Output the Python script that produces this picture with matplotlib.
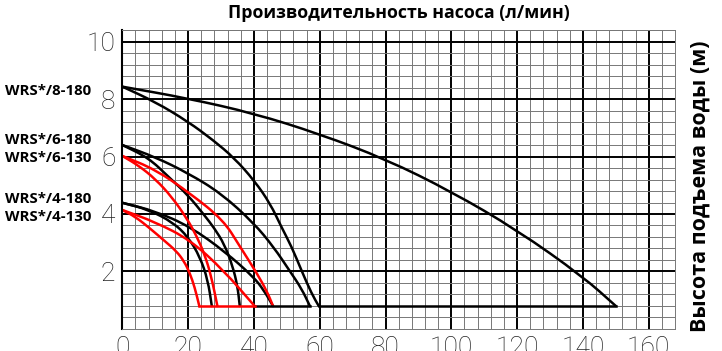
import numpy as np
import matplotlib.pyplot as plt
from matplotlib.path import Path
from matplotlib.patches import PathPatch
from matplotlib.transforms import blended_transform_factory

plt.rcParams['font.family'] = ['Open Sans', 'DejaVu Sans']

# расход (л/мин) / напор (м)
q_8_a = [0, 20, 40, 60, 80, 100, 120, 140, 150]
h_8_a = [8.43, 8.02, 7.50, 6.78, 5.91, 4.78, 3.44, 1.82, 0.8]
q_8_b = [0, 10, 20, 27.6, 34, 40.2, 45, 48.3, 51.5, 54.4, 57.5, 59.7]
h_8_b = [8.43, 7.9, 7.21, 6.57, 5.95, 5.15, 4.35, 3.56, 2.85, 2.05, 1.24, 0.8]

q_6_a = [0, 10, 20, 30, 40, 46, 51, 54.5, 57]
h_6_a = [6.40, 5.98, 5.42, 4.72, 3.68, 2.85, 2.0, 1.4, 0.8]
q_6_b = [0, 8, 14, 20, 25, 28, 31, 33.5, 35, 35.7]
h_6_b = [6.40, 5.95, 5.30, 4.65, 3.95, 3.5, 2.95, 2.2, 1.5, 0.8]

q_4_a = [0, 10, 20.6, 31.2, 39.8, 43, 45.8]
h_4_a = [4.39, 4.1, 3.56, 2.69, 1.82, 1.35, 0.8]
q_4_b = [0, 8, 15.5, 20, 23.6, 26, 27.2]
h_4_b = [4.39, 4.15, 3.70, 3.2, 2.51, 1.7, 0.8]

# красные
q_6r_a = [0, 10, 20.6, 30.7, 35.8, 40.9, 44, 45.8]
h_6r_a = [6.02, 5.55, 4.72, 3.79, 2.86, 1.94, 1.3, 0.8]
q_6r_b = [0, 5, 10, 15, 19.6, 22.5, 25, 27, 28.9]
h_6r_b = [6.02, 5.68, 5.22, 4.6, 3.85, 3.25, 2.6, 1.85, 0.8]

q_4r_a = [0, 10, 20.6, 30.7, 40.2]
h_4r_a = [4.14, 3.72, 3.10, 2.05, 0.8]
q_4r_b = [0, 4, 8.4, 13, 16.5, 18.8, 20.5, 22, 23.4]
h_4r_b = [4.14, 3.9, 3.50, 3.05, 2.7, 2.35, 1.95, 1.45, 0.8]

# горизонтальные участки
q_flat_red = [23.4, 40.2]
q_flat_blk1 = [40.2, 57]
q_flat_blk2 = [59.8, 150]
h_flat = 0.8

labels = ['WRS*/8-180', 'WRS*/6-180', 'WRS*/6-130', 'WRS*/4-180', 'WRS*/4-130']
label_h = [8.28, 6.57, 5.95, 4.52, 3.9]

x_ticks = np.arange(0, 161, 20)
y_ticks = np.arange(2, 11, 2)


def smooth_curve(ax, q, h, color):
    # кривая Безье через середины отрезков
    pts = list(zip(q, h))
    verts = [pts[0]]
    codes = [Path.MOVETO]
    mids = [((pts[i][0] + pts[i + 1][0]) / 2, (pts[i][1] + pts[i + 1][1]) / 2)
            for i in range(len(pts) - 1)]
    verts.append(mids[0])
    codes.append(Path.LINETO)
    for i in range(1, len(pts) - 1):
        verts += [pts[i], mids[i]]
        codes += [Path.CURVE3, Path.CURVE3]
    verts.append(pts[-1])
    codes.append(Path.LINETO)
    ax.add_patch(PathPatch(Path(verts, codes), fill=False, edgecolor=color,
                           lw=1.8, capstyle='round', joinstyle='round'))


fig = plt.figure(figsize=(7.22, 3.51), dpi=100)
ax = fig.add_axes([0.1694, 0.0627, 0.7656, 0.8518])
ax.set_xlim(0, 168)
ax.set_ylim(0, 10.4)

ax.set_xticks(x_ticks)
ax.set_yticks(y_ticks)
ax.set_xticks(np.arange(0, 168.1, 4), minor=True)
ax.set_yticks(np.arange(0, 10.41, 0.4), minor=True)
ax.grid(which='minor', color='#777777', lw=0.7)
ax.grid(which='major', color='black', lw=1.4)
ax.set_axisbelow(True)
ax.tick_params(which='both', length=0)
ax.tick_params(which='major', labelsize=19, pad=5, labelcolor='#222222')
for lab in ax.get_xticklabels() + ax.get_yticklabels():
    lab.set_fontfamily(['Roboto', 'DejaVu Sans'])
    lab.set_fontweight('light')

for s in ['top', 'right', 'bottom']:
    ax.spines[s].set_color('#777777')
    ax.spines[s].set_linewidth(0.7)
ax.spines['left'].set_linewidth(1.5)

for q, h in [(q_8_a, h_8_a), (q_8_b, h_8_b), (q_6_a, h_6_a), (q_6_b, h_6_b),
             (q_4_a, h_4_a), (q_4_b, h_4_b)]:
    smooth_curve(ax, q, h, 'black')
ax.plot(q_flat_blk1, [h_flat, h_flat], color='black', lw=1.8)
ax.plot(q_flat_blk2, [h_flat, h_flat], color='black', lw=1.8)

for q, h in [(q_6r_a, h_6r_a), (q_6r_b, h_6r_b), (q_4r_a, h_4r_a), (q_4r_b, h_4r_b)]:
    smooth_curve(ax, q, h, 'red')
ax.plot(q_flat_red, [h_flat, h_flat], color='red', lw=1.8)

tr = blended_transform_factory(fig.transFigure, ax.transData)
for name, y in zip(labels, label_h):
    ax.text(5 / 722, y, name, transform=tr, ha='left', va='center',
            fontsize=10.8, fontweight='bold', clip_on=False)

fig.text(0.5522, 1 - 13 / 351, 'Производительность насоса (л/мин)',
         ha='center', va='center', fontsize=12.8, fontweight='bold')
fig.text(700 / 722, 1 - 186 / 351, 'Высота подъема воды (м)', rotation=90,
         ha='center', va='center', fontsize=15.5, fontweight='bold')

fig.savefig('out.png', dpi=100)
